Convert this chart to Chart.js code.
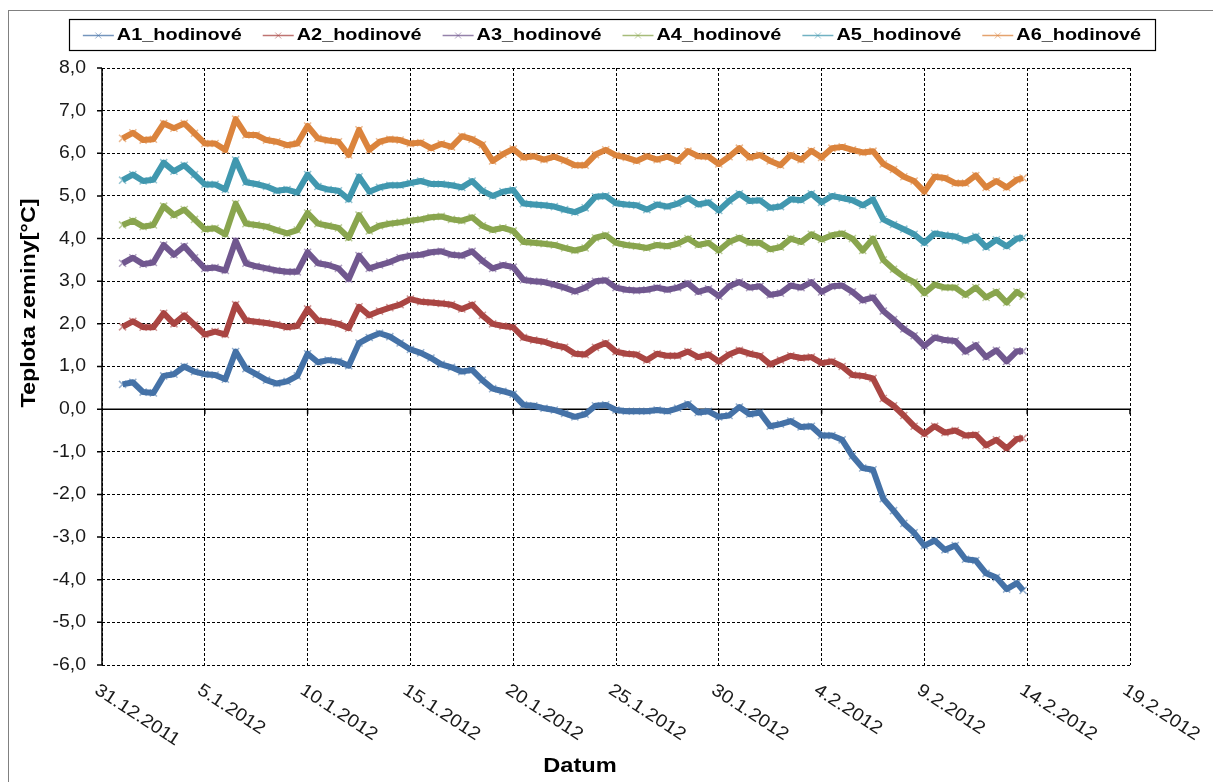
<!DOCTYPE html>
<html>
<head>
<meta charset="utf-8">
<script src="https://cdn.jsdelivr.net/npm/chart.js@4.4.0/dist/chart.umd.min.js"></script>
<style>
  html, body { margin: 0; padding: 0; background: #fff; }
  canvas { display: block; }
</style>
</head>
<body>
<canvas id="soilChart" width="1213" height="782"></canvas>
<script>
// days since 31.12.2011 00:00 (readings every ~12 h)
const days = [1,1.5,2,2.5,3,3.5,4,4.5,5,5.5,6,6.5,7,7.5,8,8.5,9,9.5,10,10.5,11,11.5,12,12.5,13,13.5,14,14.5,15,
  15.5,16,16.5,17,17.5,18,18.5,19,19.5,20,20.5,21,21.5,22,22.5,23,23.5,24,24.5,25,25.5,26,26.5,27,27.5,28,28.5,29,29.5,30,
  30.5,31,31.5,32,32.5,33,33.5,34,34.5,35,35.5,36,36.5,37,37.5,38,38.5,39,39.5,40,40.5,41,41.5,42,42.5,43,43.5,44,44.5,44.8];

const a1 = [0.58,0.63,0.40,0.38,0.78,0.82,1.00,0.88,0.82,0.80,0.70,1.35,0.95,0.82,0.68,0.60,0.65,0.78,1.30,1.10,1.15,1.12,1.02,1.55,1.68,1.78,1.70,1.55,1.40,
  1.32,1.20,1.05,0.98,0.88,0.92,0.68,0.48,0.42,0.35,0.10,0.08,0.02,-0.02,-0.10,-0.18,-0.12,0.08,0.10,-0.02,-0.05,-0.05,-0.05,-0.02,-0.05,0.02,0.12,-0.08,-0.05,-0.18,
  -0.15,0.05,-0.12,-0.08,-0.40,-0.35,-0.28,-0.42,-0.40,-0.62,-0.62,-0.72,-1.10,-1.38,-1.42,-2.10,-2.38,-2.68,-2.90,-3.20,-3.08,-3.30,-3.20,-3.52,-3.55,-3.85,-3.95,-4.22,-4.08,-4.25];
const a2 = [1.93,2.06,1.92,1.92,2.25,2.00,2.20,1.98,1.75,1.82,1.75,2.45,2.08,2.05,2.02,1.98,1.92,1.95,2.35,2.08,2.05,2.00,1.90,2.40,2.20,2.30,2.38,2.45,2.58,
  2.52,2.50,2.48,2.45,2.35,2.45,2.20,2.00,1.95,1.92,1.68,1.62,1.58,1.50,1.45,1.30,1.28,1.45,1.55,1.35,1.30,1.28,1.15,1.30,1.25,1.25,1.35,1.22,1.28,1.12,
  1.28,1.38,1.30,1.25,1.05,1.15,1.25,1.20,1.22,1.08,1.12,1.00,0.80,0.78,0.72,0.25,0.08,-0.15,-0.40,-0.58,-0.40,-0.55,-0.50,-0.62,-0.60,-0.85,-0.72,-0.92,-0.70,-0.68];
const a3 = [3.42,3.55,3.40,3.44,3.85,3.62,3.82,3.55,3.30,3.32,3.25,3.95,3.42,3.35,3.30,3.25,3.22,3.22,3.68,3.42,3.38,3.30,3.05,3.60,3.30,3.38,3.45,3.55,3.60,
  3.62,3.68,3.70,3.62,3.60,3.70,3.48,3.30,3.38,3.33,3.03,3.00,2.98,2.92,2.85,2.76,2.85,3.00,3.02,2.85,2.80,2.78,2.80,2.85,2.80,2.85,2.95,2.75,2.82,2.65,
  2.88,2.98,2.85,2.88,2.68,2.72,2.90,2.85,2.98,2.75,2.88,2.90,2.75,2.55,2.62,2.30,2.10,1.88,1.72,1.48,1.68,1.62,1.60,1.35,1.50,1.22,1.38,1.12,1.36,1.36];
const a4 = [4.32,4.42,4.28,4.32,4.76,4.55,4.68,4.45,4.22,4.24,4.10,4.82,4.35,4.32,4.28,4.20,4.12,4.20,4.60,4.35,4.30,4.25,4.02,4.55,4.18,4.30,4.35,4.38,4.42,
  4.45,4.50,4.52,4.45,4.42,4.50,4.30,4.20,4.25,4.18,3.92,3.90,3.88,3.85,3.78,3.72,3.78,4.02,4.08,3.90,3.85,3.82,3.78,3.85,3.82,3.88,4.00,3.85,3.90,3.72,
  3.92,4.02,3.90,3.90,3.75,3.80,4.00,3.92,4.10,3.98,4.08,4.12,4.00,3.72,4.00,3.50,3.28,3.10,2.98,2.72,2.92,2.85,2.85,2.68,2.85,2.62,2.75,2.50,2.75,2.65];
const a5 = [5.37,5.50,5.35,5.38,5.78,5.58,5.72,5.50,5.27,5.27,5.15,5.84,5.32,5.28,5.22,5.12,5.15,5.08,5.50,5.22,5.15,5.12,4.92,5.45,5.10,5.20,5.25,5.25,5.30,
  5.35,5.28,5.28,5.25,5.20,5.35,5.12,5.00,5.10,5.14,4.82,4.80,4.78,4.75,4.68,4.62,4.72,4.98,5.00,4.83,4.80,4.78,4.68,4.80,4.75,4.82,4.95,4.80,4.85,4.66,
  4.88,5.05,4.88,4.90,4.72,4.75,4.92,4.90,5.05,4.85,5.00,4.95,4.90,4.78,4.92,4.45,4.33,4.22,4.10,3.90,4.12,4.08,4.05,3.95,4.05,3.80,3.97,3.82,4.00,4.02];
const a6 = [6.35,6.48,6.31,6.33,6.70,6.59,6.70,6.47,6.23,6.23,6.08,6.80,6.43,6.43,6.31,6.27,6.19,6.23,6.64,6.35,6.30,6.27,5.96,6.55,6.08,6.27,6.33,6.31,6.23,
  6.25,6.12,6.22,6.15,6.40,6.33,6.20,5.82,5.98,6.10,5.90,5.93,5.85,5.92,5.83,5.72,5.72,5.97,6.08,5.95,5.90,5.82,5.93,5.85,5.92,5.82,6.05,5.93,5.92,5.75,
  5.92,6.12,5.90,5.96,5.82,5.72,5.96,5.85,6.06,5.90,6.12,6.15,6.08,6.02,6.05,5.75,5.62,5.45,5.35,5.10,5.45,5.42,5.30,5.30,5.48,5.20,5.35,5.20,5.38,5.42];

const seriesNames = ['A1_hodinové', 'A2_hodinové', 'A3_hodinové', 'A4_hodinové', 'A5_hodinové', 'A6_hodinové'];
const seriesValues = [a1, a2, a3, a4, a5, a6];
// Excel 2007 palette
const seriesColors = ['#4572A7', '#AA4643', '#71588F', '#89A54E', '#4198AF', '#DB843D'];
const xTickLabels = ['31.12.2011', '5.1.2012', '10.1.2012', '15.1.2012', '20.1.2012', '25.1.2012',
  '30.1.2012', '4.2.2012', '9.2.2012', '14.2.2012', '19.2.2012'];
const yTitle = 'Teplota zeminy[°C]';
const xTitle = 'Datum';

const FONT = '"Liberation Sans", Arial, sans-serif';
const TEXT = '#1a1a1a';

function alpha(hex, a) {
    const n = parseInt(hex.slice(1), 16);
    return 'rgba(' + (n >> 16) + ',' + ((n >> 8) & 255) + ',' + (n & 255) + ',' + a + ')';
}

// draw text stretched horizontally (Excel text is a bit wider)
function wideText(ctx, text, x, y, sx) {
    ctx.save();
    ctx.translate(x, y);
    ctx.scale(sx, 1);
    ctx.fillText(text, 0, 0);
    ctx.restore();
}

const excelLook = {
    id: 'excelLook',
    beforeDraw(chart) {
        const ctx = chart.ctx;
        ctx.save();
        ctx.fillStyle = '#fff';
        ctx.fillRect(0, 0, chart.width, chart.height);
        ctx.strokeStyle = '#808080';
        ctx.lineWidth = 1;
        ctx.strokeRect(8.5, 10.5, chart.width + 20, chart.height + 20);
        ctx.restore();
    },
    beforeDatasetsDraw(chart) {
        const {ctx, chartArea: a, scales: {x, y}} = chart;
        ctx.save();
        ctx.strokeStyle = '#000';
        ctx.lineWidth = 1.5;
        ctx.beginPath();
        ctx.moveTo(a.left, a.top);
        ctx.lineTo(a.left, a.bottom);
        y.ticks.forEach(t => {
            const py = y.getPixelForValue(t.value);
            ctx.moveTo(a.left - 5, py);
            ctx.lineTo(a.left, py);
        });
        const y0 = y.getPixelForValue(0);
        ctx.moveTo(a.left, y0);
        ctx.lineTo(a.right, y0);
        x.ticks.forEach(t => {
            const px = x.getPixelForValue(t.value);
            ctx.moveTo(px, y0);
            ctx.lineTo(px, y0 + 5);
        });
        ctx.stroke();
        ctx.restore();
    },
    afterDraw(chart) {
        const {ctx, chartArea: a, scales: {x, y}} = chart;
        ctx.save();
        ctx.fillStyle = TEXT;

        // y tick labels
        ctx.font = '18px ' + FONT;
        ctx.textAlign = 'right';
        ctx.textBaseline = 'middle';
        y.ticks.forEach(t => {
            wideText(ctx, t.value.toFixed(1).replace('.', ','), a.left - 16, y.getPixelForValue(t.value), 1.08);
        });

        // x tick labels, slanted downwards
        ctx.textAlign = 'left';
        ctx.textBaseline = 'top';
        x.ticks.forEach((t, i) => {
            const px = x.getPixelForValue(t.value);
            ctx.save();
            ctx.translate(px - 1, a.bottom + 16);
            ctx.rotate(33 * Math.PI / 180);
            ctx.scale(1.1, 1);
            ctx.fillText(xTickLabels[i] || '', 0, 0);
            ctx.restore();
        });

        // axis titles
        ctx.font = 'bold 20px ' + FONT;
        ctx.textAlign = 'center';
        ctx.textBaseline = 'middle';
        ctx.fillStyle = '#000';
        ctx.save();
        ctx.translate(29, 303);
        ctx.rotate(-Math.PI / 2);
        wideText(ctx, yTitle, 0, 0, 1.17);
        ctx.restore();
        wideText(ctx, xTitle, 580, 766, 1.18);

        // legend box
        const box = {l: 69, t: 19, r: 1155, b: 50};
        ctx.strokeStyle = '#000';
        ctx.lineWidth = 1.2;
        ctx.strokeRect(box.l + 0.5, box.t + 0.5, box.r - box.l, box.b - box.t);
        ctx.font = 'bold 17px ' + FONT;
        ctx.textAlign = 'left';
        const sx = 1.17, sample = 31, gap = 3, spacing = 21;
        const widths = seriesNames.map(n => ctx.measureText(n).width * sx);
        const total = widths.reduce((s, w) => s + sample + gap + w, 0) + spacing * (seriesNames.length - 1);
        let cx = (box.l + box.r) / 2 - total / 2;
        const cy = (box.t + box.b) / 2 + 1;
        seriesNames.forEach((n, i) => {
            ctx.strokeStyle = alpha(seriesColors[i], 0.75);
            ctx.lineWidth = 1.5;
            ctx.beginPath();
            ctx.moveTo(cx, cy);
            ctx.lineTo(cx + sample, cy);
            ctx.stroke();
            ctx.strokeStyle = alpha(seriesColors[i], 0.55);
            ctx.lineWidth = 1;
            const mx = cx + sample / 2;
            ctx.beginPath();
            ctx.moveTo(mx - 3, cy - 3); ctx.lineTo(mx + 3, cy + 3);
            ctx.moveTo(mx - 3, cy + 3); ctx.lineTo(mx + 3, cy - 3);
            ctx.stroke();
            ctx.fillStyle = '#000';
            wideText(ctx, n, cx + sample + gap, cy, sx);
            cx += sample + gap + widths[i] + spacing;
        });
        ctx.restore();
    }
};

const gridStyle = {color: '#000', lineWidth: 1, drawTicks: false};

new Chart(document.getElementById('soilChart').getContext('2d'), {
    type: 'line',
    data: {
        datasets: seriesNames.map((name, i) => ({
            label: name,
            data: days.map((d, k) => ({x: d, y: seriesValues[i][k]})),
            borderColor: seriesColors[i],
            backgroundColor: seriesColors[i],
            borderWidth: 6,
            borderJoinStyle: 'round',
            pointStyle: 'crossRot',
            pointRadius: 5,
            pointBorderWidth: 1.5,
            pointBorderColor: alpha(seriesColors[i], 0.55),
            tension: 0,
            order: seriesNames.length - i
        }))
    },
    options: {
        responsive: false,
        animation: false,
        layout: {padding: {left: 102, right: 83, top: 68, bottom: 117}},
        plugins: {legend: {display: false}, tooltip: {enabled: false}},
        scales: {
            x: {
                type: 'linear', min: 0, max: 50,
                ticks: {stepSize: 5, display: false},
                grid: gridStyle,
                border: {display: false, dash: [3, 2]}
            },
            y: {
                min: -6, max: 8,
                ticks: {stepSize: 1, display: false},
                grid: gridStyle,
                border: {display: false, dash: [3, 2]}
            }
        }
    },
    plugins: [excelLook]
});
</script>
</body>
</html>
